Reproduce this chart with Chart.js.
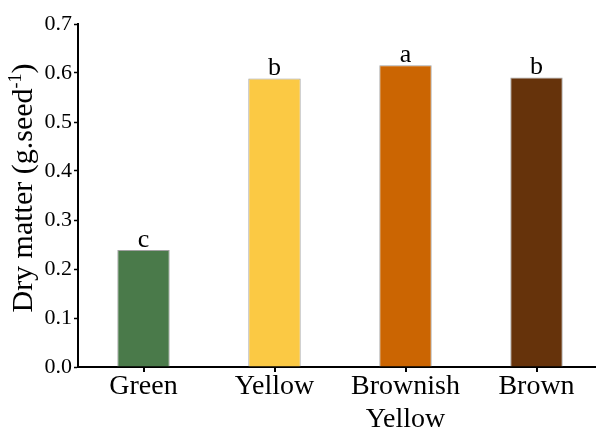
<!DOCTYPE html>
<html>
<head>
<meta charset="utf-8">
<script src="https://cdn.jsdelivr.net/npm/chart.js@4.4.1/dist/chart.umd.min.js"></script>
<style>
  html, body { margin: 0; padding: 0; background: #fff; overflow: hidden; }
  #wrap { width: 602px; height: 430px; position: relative; }
</style>
</head>
<body>
<div id="wrap"><canvas id="chart"></canvas></div>
<script>
const categories = [['Green'], ['Yellow'], ['Brownish', 'Yellow'], ['Brown']];
const dryMatter = [0.239, 0.589, 0.616, 0.591];
const groupLetters = ['c', 'b', 'a', 'b'];
const barColors = ['#4a7a4a', '#fbc944', '#cb6502', '#66330b'];
const yTicks = [0, 0.1, 0.2, 0.3, 0.4, 0.5, 0.6, 0.7];

const serif = '"Liberation Serif", "Times New Roman", serif';

// letters over each bar, placed from the bar elements
const letterPlugin = {
  id: 'letters',
  afterDatasetsDraw(chart) {
    const ctx = chart.ctx;
    const bars = chart.getDatasetMeta(0).data;
    ctx.save();
    ctx.font = `26px ${serif}`;
    ctx.fillStyle = '#000';
    ctx.textAlign = 'center';
    ctx.textBaseline = 'alphabetic';
    bars.forEach((bar, i) => {
      ctx.fillText(groupLetters[i], bar.x, bar.y - 3);
    });
    ctx.restore();
  }
};

// small tick marks under the x axis at each category centre
const xTickPlugin = {
  id: 'xTickMarks',
  afterDraw(chart) {
    const ctx = chart.ctx;
    const xScale = chart.scales.x;
    const y0 = chart.chartArea.bottom;
    ctx.save();
    ctx.fillStyle = '#000';
    categories.forEach((_, i) => {
      const x = Math.round(xScale.getPixelForValue(i));
      ctx.fillRect(x - 1, y0, 2, 5);
    });
    ctx.restore();
  }
};

// rotated y title with superscript -1
const yTitlePlugin = {
  id: 'yTitle',
  afterDraw(chart) {
    const ctx = chart.ctx;
    const main = 'Dry matter (g.seed';
    const sup = '-1';
    const tail = ')';
    ctx.save();
    ctx.fillStyle = '#000';
    ctx.textBaseline = 'alphabetic';
    ctx.textAlign = 'left';
    ctx.font = `30px ${serif}`;
    const wMain = ctx.measureText(main).width;
    const wTail = ctx.measureText(tail).width;
    ctx.font = `18px ${serif}`;
    const wSup = ctx.measureText(sup).width;
    const total = wMain + wSup + wTail;
    ctx.translate(32, 188);
    ctx.rotate(-Math.PI / 2);
    let x = -total / 2;
    ctx.font = `30px ${serif}`;
    ctx.fillText(main, x, 0);
    x += wMain;
    ctx.font = `18px ${serif}`;
    ctx.fillText(sup, x, -11);
    x += wSup;
    ctx.font = `30px ${serif}`;
    ctx.fillText(tail, x, 0);
    ctx.restore();
  }
};

new Chart(document.getElementById('chart'), {
  type: 'bar',
  data: {
    labels: categories,
    datasets: [{
      data: dryMatter,
      backgroundColor: barColors,
      borderColor: '#a0a0a0',
      borderWidth: 1,
      barPercentage: 0.4,
      categoryPercentage: 1.0
    }]
  },
  options: {
    responsive: true,
    maintainAspectRatio: false,
    animation: false,
    layout: { padding: { top: 24, right: 0, left: 0, bottom: 0 } },
    plugins: {
      legend: { display: false },
      tooltip: { enabled: false }
    },
    scales: {
      x: {
        afterFit(scale) { scale.height = 63; },
        grid: { display: false, drawTicks: false },
        border: { display: true, color: '#000', width: 2 },
        ticks: { color: '#000', font: { family: serif, size: 28, lineHeight: 1.18 }, padding: 3, maxRotation: 0, autoSkip: false }
      },
      y: {
        min: 0,
        max: 0.7,
        afterFit(scale) { scale.width = 78; },
        afterBuildTicks(scale) { scale.ticks = yTicks.map(v => ({ value: v })); },
        grid: { drawOnChartArea: false, drawTicks: true, tickLength: 4, color: '#000', tickWidth: 1.5 },
        border: { display: true, color: '#000', width: 2 },
        ticks: { color: '#000', font: { family: serif, size: 22 }, padding: 2, callback: v => v.toFixed(1) }
      }
    }
  },
  plugins: [letterPlugin, xTickPlugin, yTitlePlugin]
});
</script>
</body>
</html>
